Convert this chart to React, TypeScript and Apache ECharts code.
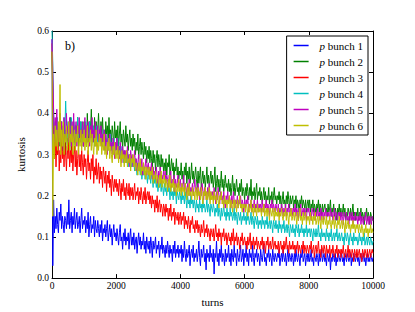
import React, { useEffect, useRef } from "react";
import * as echarts from "echarts";

const TURN_STEP = 25;
const xTicks = [0, 2000, 4000, 6000, 8000, 10000];
const yTicks = [0.0, 0.1, 0.2, 0.3, 0.4, 0.5, 0.6];
const seriesNames = ["p bunch 1", "p bunch 2", "p bunch 3", "p bunch 4", "p bunch 5", "p bunch 6"];
const seriesColors = ["#0000ff", "#008000", "#ff0000", "#00bfbf", "#bf00bf", "#bfbf00"];

const bunch1 = [
  0.58, 0.03, 0.19, 0.11, 0.15, 0.12, 0.17, 0.13, 0.11, 0.16, 0.14, 0.18, 0.12, 0.15, 0.13, 0.11, 0.15, 0.14, 0.12, 0.16,
  0.13, 0.19, 0.12, 0.14, 0.16, 0.11, 0.15, 0.13, 0.17, 0.12, 0.14, 0.16, 0.12, 0.13, 0.15, 0.11, 0.14, 0.17, 0.12, 0.14,
  0.13, 0.15, 0.11, 0.14, 0.12, 0.16, 0.10, 0.13, 0.15, 0.11, 0.13, 0.12, 0.15, 0.10, 0.14, 0.12, 0.11, 0.14, 0.12, 0.10,
  0.13, 0.11, 0.14, 0.09, 0.12, 0.11, 0.13, 0.10, 0.12, 0.14, 0.09, 0.11, 0.13, 0.10, 0.12, 0.08, 0.11, 0.13, 0.10, 0.11,
  0.09, 0.12, 0.10, 0.08, 0.11, 0.13, 0.09, 0.10, 0.07, 0.11, 0.09, 0.12, 0.08, 0.10, 0.09, 0.11, 0.07, 0.10, 0.12, 0.08,
  0.10, 0.08, 0.11, 0.07, 0.09, 0.10, 0.06, 0.09, 0.11, 0.08, 0.10, 0.07, 0.09, 0.08, 0.11, 0.07, 0.09, 0.06, 0.10, 0.08,
  0.07, 0.09, 0.06, 0.10, 0.08, 0.05, 0.09, 0.07, 0.08, 0.10, 0.06, 0.08, 0.07, 0.09, 0.05, 0.08, 0.07, 0.10, 0.06, 0.08,
  0.07, 0.05, 0.08, 0.06, 0.09, 0.07, 0.05, 0.08, 0.06, 0.07, 0.04, 0.08, 0.06, 0.09, 0.05, 0.07, 0.06, 0.08, 0.05, 0.07,
  0.06, 0.08, 0.04, 0.07, 0.05, 0.09, 0.06, 0.04, 0.07, 0.05, 0.06, 0.08, 0.03, 0.06, 0.07, 0.05, 0.08, 0.04, 0.06, 0.05,
  0.07, 0.04, 0.06, 0.09, 0.05, 0.03, 0.07, 0.05, 0.06, 0.08, 0.04, 0.06, 0.02, 0.07, 0.05, 0.06, 0.04, 0.08, 0.05, 0.06,
  0.04, 0.07, 0.01, 0.06, 0.05, 0.09, 0.04, 0.06, 0.03, 0.07, 0.05, 0.08, 0.04, 0.06, 0.05, 0.03, 0.07, 0.04, 0.06, 0.05,
  0.08, 0.04, 0.06, 0.03, 0.07, 0.05, 0.04, 0.08, 0.05, 0.06, 0.03, 0.07, 0.05, 0.04, 0.06, 0.08, 0.04, 0.05, 0.07, 0.03,
  0.06, 0.05, 0.08, 0.04, 0.06, 0.03, 0.07, 0.05, 0.06, 0.04, 0.08, 0.05, 0.03, 0.06, 0.05, 0.07, 0.04, 0.06, 0.05, 0.03,
  0.07, 0.05, 0.04, 0.06, 0.08, 0.04, 0.05, 0.03, 0.06, 0.05, 0.07, 0.04, 0.06, 0.05, 0.03, 0.07, 0.05, 0.04, 0.06, 0.05,
  0.04, 0.06, 0.05, 0.07, 0.03, 0.05, 0.06, 0.04, 0.07, 0.05, 0.04, 0.06, 0.03, 0.05, 0.07, 0.04, 0.06, 0.05, 0.04, 0.06,
  0.05, 0.03, 0.06, 0.04, 0.07, 0.05, 0.04, 0.06, 0.05, 0.03, 0.06, 0.05, 0.07, 0.04, 0.05, 0.06, 0.03, 0.05, 0.06, 0.04,
  0.06, 0.04, 0.05, 0.07, 0.04, 0.05, 0.03, 0.06, 0.05, 0.04, 0.06, 0.05, 0.03, 0.06, 0.04, 0.05, 0.07, 0.04, 0.05, 0.06,
  0.04, 0.05, 0.03, 0.06, 0.05, 0.04, 0.06, 0.02, 0.05, 0.04, 0.06, 0.05, 0.04, 0.06, 0.03, 0.05, 0.04, 0.06, 0.05, 0.04,
  0.05, 0.06, 0.04, 0.05, 0.03, 0.06, 0.05, 0.04, 0.06, 0.05, 0.04, 0.05, 0.06, 0.03, 0.05, 0.04, 0.06, 0.05, 0.04, 0.05,
  0.06, 0.04, 0.05, 0.03, 0.05, 0.06, 0.04, 0.05, 0.06, 0.04, 0.05, 0.03, 0.05, 0.06, 0.04, 0.05, 0.04, 0.06, 0.05, 0.04,
  0.05,
];

const bunch2 = [
  0.55, 0.46, 0.38, 0.31, 0.36, 0.33, 0.39, 0.30, 0.35, 0.37, 0.32, 0.38, 0.34, 0.31, 0.37, 0.33, 0.36, 0.30, 0.38, 0.34,
  0.32, 0.37, 0.34, 0.39, 0.31, 0.36, 0.33, 0.38, 0.35, 0.31, 0.37, 0.34, 0.39, 0.32, 0.36, 0.33, 0.38, 0.34, 0.36, 0.32,
  0.38, 0.34, 0.37, 0.32, 0.40, 0.35, 0.33, 0.38, 0.36, 0.41, 0.34, 0.37, 0.33, 0.39, 0.35, 0.38, 0.34, 0.36, 0.40, 0.35,
  0.33, 0.38, 0.35, 0.39, 0.34, 0.36, 0.32, 0.38, 0.35, 0.37, 0.33, 0.39, 0.34, 0.36, 0.33, 0.37, 0.35, 0.32, 0.38, 0.34,
  0.36, 0.33, 0.37, 0.32, 0.35, 0.38, 0.33, 0.35, 0.31, 0.36, 0.34, 0.32, 0.37, 0.33, 0.35, 0.31, 0.34, 0.36, 0.32, 0.34,
  0.31, 0.35, 0.32, 0.34, 0.30, 0.33, 0.31, 0.35, 0.29, 0.32, 0.34, 0.30, 0.33, 0.31, 0.29, 0.33, 0.30, 0.32, 0.28, 0.31,
  0.29, 0.32, 0.28, 0.31, 0.29, 0.27, 0.31, 0.28, 0.30, 0.26, 0.29, 0.31, 0.27, 0.30, 0.28, 0.26, 0.30, 0.27, 0.29, 0.26,
  0.28, 0.26, 0.29, 0.25, 0.28, 0.27, 0.30, 0.25, 0.27, 0.29, 0.26, 0.28, 0.24, 0.27, 0.26, 0.29, 0.25, 0.27, 0.24, 0.26,
  0.25, 0.28, 0.24, 0.26, 0.23, 0.27, 0.25, 0.28, 0.23, 0.26, 0.24, 0.27, 0.23, 0.25, 0.28, 0.24, 0.26, 0.23, 0.25, 0.27,
  0.24, 0.22, 0.26, 0.23, 0.25, 0.27, 0.22, 0.24, 0.26, 0.23, 0.25, 0.22, 0.24, 0.27, 0.23, 0.25, 0.22, 0.24, 0.26, 0.23,
  0.25, 0.22, 0.24, 0.27, 0.21, 0.23, 0.25, 0.22, 0.24, 0.21, 0.23, 0.26, 0.22, 0.24, 0.21, 0.23, 0.25, 0.22, 0.23, 0.21,
  0.24, 0.21, 0.23, 0.20, 0.22, 0.25, 0.21, 0.23, 0.20, 0.22, 0.24, 0.21, 0.22, 0.20, 0.23, 0.21, 0.24, 0.20, 0.22, 0.21,
  0.19, 0.22, 0.20, 0.23, 0.21, 0.19, 0.22, 0.20, 0.24, 0.19, 0.21, 0.20, 0.22, 0.19, 0.21, 0.23, 0.19, 0.21, 0.20, 0.22,
  0.19, 0.21, 0.18, 0.20, 0.22, 0.19, 0.21, 0.18, 0.20, 0.19, 0.22, 0.18, 0.20, 0.19, 0.21, 0.18, 0.20, 0.22, 0.19, 0.20,
  0.18, 0.20, 0.19, 0.21, 0.18, 0.20, 0.17, 0.19, 0.21, 0.18, 0.19, 0.17, 0.20, 0.18, 0.21, 0.19, 0.17, 0.20, 0.18, 0.19,
  0.20, 0.17, 0.19, 0.18, 0.20, 0.17, 0.19, 0.18, 0.16, 0.19, 0.18, 0.20, 0.17, 0.19, 0.18, 0.17, 0.19, 0.16, 0.18, 0.19,
  0.17, 0.19, 0.16, 0.18, 0.17, 0.19, 0.16, 0.18, 0.17, 0.15, 0.18, 0.17, 0.19, 0.16, 0.18, 0.17, 0.15, 0.18, 0.16, 0.17,
  0.18, 0.16, 0.17, 0.15, 0.18, 0.16, 0.17, 0.19, 0.15, 0.17, 0.16, 0.18, 0.15, 0.17, 0.16, 0.14, 0.17, 0.16, 0.18, 0.15,
  0.17, 0.15, 0.16, 0.18, 0.15, 0.17, 0.14, 0.16, 0.15, 0.17, 0.16, 0.14, 0.17, 0.15, 0.16, 0.18, 0.15, 0.16, 0.14, 0.16,
  0.15, 0.17, 0.14, 0.16, 0.15, 0.17, 0.14, 0.16, 0.15, 0.13, 0.16, 0.15, 0.17, 0.14, 0.16, 0.15, 0.13, 0.16, 0.15, 0.14,
  0.15,
];

const bunch3 = [
  0.57, 0.43, 0.36, 0.29, 0.34, 0.27, 0.33, 0.30, 0.35, 0.26, 0.31, 0.28, 0.34, 0.29, 0.32, 0.27, 0.33, 0.30, 0.26, 0.32,
  0.29, 0.33, 0.27, 0.31, 0.28, 0.34, 0.26, 0.30, 0.32, 0.27, 0.31, 0.25, 0.29, 0.32, 0.27, 0.30, 0.26, 0.31, 0.28, 0.25,
  0.30, 0.27, 0.29, 0.24, 0.28, 0.31, 0.26, 0.28, 0.24, 0.29, 0.26, 0.30, 0.23, 0.27, 0.25, 0.29, 0.24, 0.26, 0.28, 0.23,
  0.27, 0.24, 0.26, 0.22, 0.27, 0.25, 0.23, 0.26, 0.21, 0.25, 0.23, 0.26, 0.22, 0.24, 0.20, 0.25, 0.23, 0.21, 0.24, 0.22,
  0.24, 0.21, 0.23, 0.20, 0.24, 0.22, 0.19, 0.23, 0.21, 0.24, 0.20, 0.22, 0.19, 0.23, 0.21, 0.20, 0.23, 0.19, 0.22, 0.20,
  0.22, 0.19, 0.21, 0.23, 0.19, 0.21, 0.20, 0.22, 0.18, 0.21, 0.19, 0.22, 0.20, 0.18, 0.21, 0.19, 0.22, 0.18, 0.20, 0.21,
  0.19, 0.21, 0.18, 0.20, 0.17, 0.20, 0.18, 0.19, 0.16, 0.19, 0.17, 0.20, 0.16, 0.18, 0.19, 0.16, 0.18, 0.17, 0.15, 0.18,
  0.17, 0.15, 0.18, 0.16, 0.17, 0.14, 0.17, 0.15, 0.18, 0.14, 0.16, 0.15, 0.17, 0.13, 0.16, 0.15, 0.14, 0.16, 0.13, 0.15,
  0.16, 0.13, 0.15, 0.14, 0.16, 0.12, 0.15, 0.13, 0.14, 0.12, 0.15, 0.13, 0.11, 0.14, 0.13, 0.15, 0.12, 0.13, 0.11, 0.14,
  0.12, 0.14, 0.11, 0.13, 0.12, 0.10, 0.13, 0.11, 0.12, 0.14, 0.10, 0.12, 0.11, 0.13, 0.10, 0.12, 0.11, 0.09, 0.12, 0.11,
  0.10, 0.12, 0.09, 0.11, 0.13, 0.10, 0.11, 0.09, 0.12, 0.10, 0.11, 0.08, 0.11, 0.10, 0.12, 0.09, 0.10, 0.11, 0.08, 0.10,
  0.11, 0.09, 0.10, 0.08, 0.11, 0.09, 0.12, 0.08, 0.10, 0.09, 0.11, 0.08, 0.10, 0.09, 0.07, 0.10, 0.09, 0.11, 0.08, 0.09,
  0.10, 0.08, 0.09, 0.07, 0.10, 0.08, 0.09, 0.11, 0.07, 0.09, 0.08, 0.10, 0.07, 0.09, 0.08, 0.10, 0.07, 0.09, 0.08, 0.07,
  0.09, 0.08, 0.10, 0.07, 0.09, 0.08, 0.06, 0.09, 0.08, 0.10, 0.07, 0.08, 0.09, 0.07, 0.08, 0.10, 0.07, 0.08, 0.09, 0.07,
  0.08, 0.07, 0.09, 0.06, 0.08, 0.09, 0.07, 0.08, 0.06, 0.09, 0.07, 0.08, 0.10, 0.07, 0.08, 0.06, 0.09, 0.07, 0.08, 0.07,
  0.09, 0.07, 0.08, 0.06, 0.08, 0.07, 0.09, 0.06, 0.08, 0.07, 0.06, 0.08, 0.07, 0.09, 0.06, 0.08, 0.07, 0.06, 0.08, 0.07,
  0.06, 0.08, 0.07, 0.09, 0.06, 0.07, 0.08, 0.05, 0.07, 0.08, 0.06, 0.07, 0.09, 0.06, 0.07, 0.05, 0.08, 0.07, 0.06, 0.08,
  0.07, 0.05, 0.08, 0.06, 0.07, 0.06, 0.08, 0.05, 0.07, 0.06, 0.08, 0.06, 0.05, 0.07, 0.06, 0.08, 0.05, 0.07, 0.06, 0.07,
  0.05, 0.07, 0.06, 0.08, 0.05, 0.06, 0.07, 0.05, 0.06, 0.08, 0.05, 0.07, 0.06, 0.05, 0.07, 0.06, 0.04, 0.07, 0.06, 0.05,
  0.07, 0.05, 0.06, 0.07, 0.05, 0.06, 0.04, 0.07, 0.06, 0.05, 0.07, 0.06, 0.05, 0.07, 0.05, 0.06, 0.07, 0.05, 0.06, 0.07,
  0.06,
];

const bunch4 = [
  0.60, 0.52, 0.40, 0.34, 0.38, 0.35, 0.39, 0.33, 0.37, 0.35, 0.40, 0.34, 0.38, 0.33, 0.36, 0.39, 0.35, 0.43, 0.37, 0.34,
  0.38, 0.35, 0.37, 0.33, 0.39, 0.36, 0.34, 0.38, 0.35, 0.37, 0.33, 0.36, 0.39, 0.34, 0.37, 0.35, 0.38, 0.33, 0.36, 0.35,
  0.37, 0.34, 0.38, 0.35, 0.33, 0.37, 0.35, 0.38, 0.34, 0.36, 0.33, 0.37, 0.35, 0.32, 0.36, 0.34, 0.37, 0.33, 0.35, 0.34,
  0.36, 0.33, 0.35, 0.32, 0.36, 0.34, 0.31, 0.35, 0.33, 0.34, 0.31, 0.34, 0.32, 0.35, 0.31, 0.33, 0.30, 0.34, 0.32, 0.31,
  0.33, 0.31, 0.34, 0.30, 0.32, 0.29, 0.32, 0.30, 0.31, 0.28, 0.31, 0.29, 0.30, 0.28, 0.31, 0.27, 0.30, 0.28, 0.29, 0.27,
  0.29, 0.27, 0.28, 0.26, 0.29, 0.27, 0.25, 0.28, 0.26, 0.27, 0.25, 0.27, 0.24, 0.26, 0.25, 0.27, 0.24, 0.26, 0.25, 0.23,
  0.26, 0.24, 0.25, 0.23, 0.26, 0.24, 0.22, 0.25, 0.23, 0.24, 0.22, 0.24, 0.21, 0.23, 0.22, 0.24, 0.21, 0.23, 0.22, 0.20,
  0.23, 0.21, 0.22, 0.20, 0.23, 0.21, 0.22, 0.19, 0.22, 0.20, 0.21, 0.19, 0.22, 0.20, 0.21, 0.18, 0.21, 0.20, 0.19, 0.21,
  0.20, 0.18, 0.21, 0.19, 0.20, 0.18, 0.21, 0.19, 0.17, 0.20, 0.18, 0.19, 0.17, 0.20, 0.18, 0.19, 0.17, 0.19, 0.18, 0.16,
  0.19, 0.17, 0.18, 0.16, 0.19, 0.17, 0.18, 0.16, 0.19, 0.17, 0.18, 0.16, 0.17, 0.19, 0.16, 0.18, 0.17, 0.15, 0.18, 0.17,
  0.16, 0.18, 0.17, 0.15, 0.17, 0.16, 0.18, 0.15, 0.17, 0.16, 0.14, 0.17, 0.15, 0.16, 0.18, 0.15, 0.16, 0.14, 0.17, 0.15,
  0.16, 0.14, 0.17, 0.15, 0.16, 0.14, 0.15, 0.17, 0.14, 0.16, 0.15, 0.13, 0.16, 0.15, 0.14, 0.16, 0.13, 0.15, 0.14, 0.16,
  0.14, 0.15, 0.13, 0.16, 0.14, 0.15, 0.13, 0.14, 0.16, 0.13, 0.15, 0.14, 0.12, 0.15, 0.14, 0.13, 0.15, 0.12, 0.14, 0.13,
  0.14, 0.12, 0.15, 0.13, 0.14, 0.12, 0.14, 0.13, 0.15, 0.12, 0.13, 0.14, 0.12, 0.14, 0.13, 0.11, 0.14, 0.13, 0.12, 0.14,
  0.12, 0.13, 0.11, 0.14, 0.12, 0.13, 0.11, 0.13, 0.12, 0.14, 0.11, 0.12, 0.13, 0.11, 0.13, 0.12, 0.10, 0.13, 0.12, 0.11,
  0.13, 0.11, 0.12, 0.10, 0.13, 0.12, 0.11, 0.13, 0.10, 0.12, 0.11, 0.13, 0.11, 0.12, 0.10, 0.12, 0.11, 0.13, 0.10, 0.12,
  0.11, 0.12, 0.10, 0.12, 0.11, 0.09, 0.12, 0.11, 0.10, 0.12, 0.10, 0.11, 0.13, 0.10, 0.11, 0.09, 0.12, 0.10, 0.11, 0.10,
  0.11, 0.09, 0.12, 0.10, 0.11, 0.09, 0.11, 0.10, 0.12, 0.09, 0.10, 0.11, 0.09, 0.11, 0.10, 0.12, 0.09, 0.10, 0.11, 0.09,
  0.10, 0.11, 0.09, 0.10, 0.08, 0.11, 0.10, 0.09, 0.11, 0.10, 0.08, 0.10, 0.11, 0.09, 0.10, 0.08, 0.11, 0.09, 0.10, 0.09,
  0.10, 0.08, 0.09, 0.11, 0.09, 0.10, 0.08, 0.10, 0.09, 0.11, 0.08, 0.09, 0.10, 0.08, 0.10, 0.09, 0.08, 0.10, 0.09, 0.08,
  0.09,
];

const bunch5 = [
  0.58, 0.50, 0.41, 0.33, 0.39, 0.35, 0.41, 0.32, 0.37, 0.34, 0.40, 0.33, 0.38, 0.35, 0.31, 0.39, 0.36, 0.33, 0.40, 0.35,
  0.37, 0.33, 0.39, 0.35, 0.32, 0.38, 0.34, 0.40, 0.33, 0.36, 0.38, 0.32, 0.37, 0.35, 0.39, 0.33, 0.36, 0.34, 0.38, 0.32,
  0.36, 0.39, 0.34, 0.37, 0.33, 0.38, 0.35, 0.32, 0.37, 0.34, 0.39, 0.33, 0.36, 0.34, 0.38, 0.32, 0.35, 0.37, 0.33, 0.36,
  0.34, 0.37, 0.32, 0.35, 0.33, 0.36, 0.31, 0.35, 0.33, 0.30, 0.34, 0.32, 0.35, 0.31, 0.33, 0.30, 0.34, 0.32, 0.29, 0.33,
  0.31, 0.34, 0.30, 0.32, 0.29, 0.33, 0.31, 0.28, 0.32, 0.30, 0.31, 0.28, 0.31, 0.29, 0.32, 0.28, 0.30, 0.27, 0.31, 0.29,
  0.30, 0.27, 0.29, 0.31, 0.27, 0.29, 0.26, 0.28, 0.30, 0.26, 0.28, 0.27, 0.29, 0.25, 0.28, 0.26, 0.27, 0.29, 0.25, 0.27,
  0.28, 0.25, 0.27, 0.26, 0.28, 0.24, 0.27, 0.25, 0.26, 0.24, 0.27, 0.25, 0.23, 0.26, 0.24, 0.27, 0.23, 0.25, 0.24, 0.26,
  0.24, 0.26, 0.23, 0.25, 0.24, 0.22, 0.25, 0.23, 0.26, 0.22, 0.24, 0.23, 0.25, 0.21, 0.24, 0.22, 0.23, 0.25, 0.22, 0.23,
  0.24, 0.21, 0.23, 0.22, 0.25, 0.21, 0.23, 0.22, 0.20, 0.23, 0.21, 0.24, 0.20, 0.22, 0.21, 0.23, 0.20, 0.22, 0.24, 0.21,
  0.22, 0.20, 0.23, 0.21, 0.19, 0.22, 0.20, 0.23, 0.21, 0.19, 0.22, 0.20, 0.21, 0.19, 0.22, 0.20, 0.23, 0.19, 0.21, 0.20,
  0.21, 0.19, 0.22, 0.20, 0.18, 0.21, 0.19, 0.22, 0.20, 0.18, 0.21, 0.19, 0.20, 0.18, 0.21, 0.19, 0.17, 0.20, 0.19, 0.21,
  0.18, 0.20, 0.19, 0.17, 0.20, 0.18, 0.21, 0.19, 0.17, 0.19, 0.18, 0.20, 0.17, 0.19, 0.18, 0.20, 0.17, 0.19, 0.18, 0.16,
  0.19, 0.17, 0.19, 0.18, 0.20, 0.16, 0.18, 0.17, 0.19, 0.16, 0.18, 0.17, 0.19, 0.16, 0.18, 0.17, 0.19, 0.16, 0.18, 0.17,
  0.18, 0.16, 0.19, 0.17, 0.16, 0.18, 0.17, 0.19, 0.16, 0.18, 0.17, 0.15, 0.18, 0.17, 0.19, 0.16, 0.18, 0.17, 0.16, 0.18,
  0.17, 0.16, 0.18, 0.15, 0.17, 0.16, 0.18, 0.17, 0.15, 0.17, 0.16, 0.18, 0.15, 0.17, 0.16, 0.18, 0.15, 0.17, 0.16, 0.17,
  0.15, 0.17, 0.16, 0.18, 0.15, 0.17, 0.16, 0.14, 0.17, 0.16, 0.18, 0.15, 0.16, 0.17, 0.15, 0.17, 0.16, 0.14, 0.17, 0.16,
  0.17, 0.15, 0.16, 0.14, 0.17, 0.16, 0.15, 0.17, 0.14, 0.16, 0.15, 0.17, 0.15, 0.16, 0.14, 0.17, 0.15, 0.16, 0.14, 0.16,
  0.15, 0.17, 0.14, 0.16, 0.15, 0.16, 0.14, 0.17, 0.15, 0.16, 0.14, 0.15, 0.17, 0.14, 0.16, 0.15, 0.14, 0.16, 0.15, 0.16,
  0.14, 0.16, 0.15, 0.13, 0.16, 0.15, 0.14, 0.16, 0.14, 0.15, 0.13, 0.16, 0.15, 0.14, 0.16, 0.13, 0.15, 0.14, 0.16, 0.14,
  0.15, 0.13, 0.15, 0.14, 0.16, 0.13, 0.15, 0.14, 0.13, 0.15, 0.14, 0.16, 0.13, 0.14, 0.15, 0.13, 0.15, 0.14, 0.13, 0.15,
  0.14,
];

const bunch6 = [
  0.55, 0.15, 0.35, 0.29, 0.37, 0.32, 0.36, 0.31, 0.38, 0.33, 0.47, 0.30, 0.36, 0.32, 0.38, 0.30, 0.35, 0.33, 0.37, 0.31,
  0.34, 0.38, 0.31, 0.35, 0.33, 0.37, 0.30, 0.34, 0.36, 0.31, 0.35, 0.33, 0.37, 0.30, 0.34, 0.32, 0.36, 0.31, 0.35, 0.33,
  0.36, 0.31, 0.34, 0.32, 0.37, 0.30, 0.34, 0.33, 0.36, 0.31, 0.35, 0.32, 0.30, 0.34, 0.32, 0.36, 0.30, 0.33, 0.31, 0.35,
  0.32, 0.34, 0.30, 0.33, 0.31, 0.35, 0.30, 0.32, 0.29, 0.33, 0.31, 0.34, 0.29, 0.32, 0.30, 0.28, 0.32, 0.30, 0.33, 0.29,
  0.31, 0.29, 0.32, 0.28, 0.31, 0.30, 0.27, 0.31, 0.29, 0.30, 0.27, 0.30, 0.28, 0.31, 0.27, 0.29, 0.28, 0.30, 0.26, 0.29,
  0.28, 0.30, 0.27, 0.29, 0.26, 0.28, 0.27, 0.25, 0.28, 0.26, 0.29, 0.25, 0.27, 0.26, 0.28, 0.25, 0.27, 0.24, 0.27, 0.26,
  0.25, 0.27, 0.24, 0.26, 0.25, 0.27, 0.23, 0.25, 0.24, 0.26, 0.23, 0.25, 0.24, 0.22, 0.25, 0.23, 0.26, 0.22, 0.24, 0.23,
  0.25, 0.22, 0.24, 0.23, 0.21, 0.24, 0.22, 0.25, 0.21, 0.23, 0.22, 0.24, 0.21, 0.23, 0.22, 0.20, 0.23, 0.21, 0.24, 0.21,
  0.22, 0.20, 0.23, 0.21, 0.22, 0.20, 0.23, 0.21, 0.19, 0.22, 0.20, 0.23, 0.20, 0.21, 0.19, 0.22, 0.20, 0.21, 0.19, 0.22,
  0.21, 0.19, 0.22, 0.20, 0.21, 0.19, 0.22, 0.20, 0.18, 0.21, 0.20, 0.22, 0.19, 0.21, 0.19, 0.20, 0.22, 0.18, 0.21, 0.19,
  0.20, 0.18, 0.21, 0.19, 0.20, 0.18, 0.21, 0.19, 0.17, 0.20, 0.19, 0.21, 0.18, 0.19, 0.17, 0.20, 0.18, 0.19, 0.17, 0.19,
  0.18, 0.20, 0.17, 0.19, 0.18, 0.16, 0.19, 0.17, 0.19, 0.18, 0.16, 0.19, 0.17, 0.18, 0.20, 0.17, 0.18, 0.16, 0.18, 0.17,
  0.18, 0.16, 0.18, 0.17, 0.15, 0.18, 0.16, 0.17, 0.19, 0.16, 0.17, 0.15, 0.18, 0.16, 0.17, 0.15, 0.18, 0.16, 0.17, 0.16,
  0.17, 0.15, 0.17, 0.16, 0.18, 0.15, 0.16, 0.17, 0.15, 0.17, 0.16, 0.14, 0.17, 0.16, 0.15, 0.17, 0.16, 0.14, 0.17, 0.15,
  0.16, 0.15, 0.17, 0.14, 0.16, 0.15, 0.17, 0.15, 0.14, 0.16, 0.15, 0.17, 0.14, 0.16, 0.15, 0.13, 0.16, 0.15, 0.17, 0.14,
  0.15, 0.16, 0.14, 0.16, 0.15, 0.13, 0.16, 0.14, 0.15, 0.17, 0.14, 0.15, 0.13, 0.16, 0.14, 0.15, 0.16, 0.13, 0.15, 0.14,
  0.15, 0.13, 0.16, 0.14, 0.15, 0.13, 0.15, 0.14, 0.16, 0.13, 0.14, 0.15, 0.13, 0.15, 0.14, 0.12, 0.15, 0.14, 0.13, 0.15,
  0.14, 0.13, 0.15, 0.12, 0.14, 0.13, 0.15, 0.13, 0.12, 0.14, 0.13, 0.15, 0.12, 0.14, 0.13, 0.12, 0.14, 0.13, 0.15, 0.12,
  0.13, 0.14, 0.12, 0.14, 0.13, 0.11, 0.14, 0.12, 0.13, 0.14, 0.12, 0.13, 0.11, 0.13, 0.12, 0.14, 0.12, 0.13, 0.11, 0.13,
  0.12, 0.13, 0.11, 0.13, 0.12, 0.11, 0.13, 0.12, 0.10, 0.12, 0.11, 0.13, 0.11, 0.12, 0.10, 0.12, 0.11, 0.13, 0.11, 0.12,
  0.11,
];

const allSeries = [bunch1, bunch2, bunch3, bunch4, bunch5, bunch6];

const FONT = "Liberation Serif";
const LEGEND_LINE_ICON = "path://M0,0L10,0L10,1L0,1Z";

export default function App() {
  const ref = useRef<HTMLDivElement>(null);
  useEffect(() => {
    if (!ref.current) return;
    const chart = echarts.init(ref.current, undefined, { renderer: "svg" });
    const axisCommon = {
      type: "value" as const,
      axisLine: { show: true, onZero: false, lineStyle: { color: "#000", width: 1 } },
      axisTick: { show: true, inside: true, length: 4, lineStyle: { color: "#000", width: 1 } },
      splitLine: { show: false },
    };
    const xMin = xTicks[0];
    const xMax = xTicks[xTicks.length - 1];
    const xInt = xTicks[1] - xTicks[0];
    const yMin = yTicks[0];
    const yMax = yTicks[yTicks.length - 1];
    const yInt = 0.1;
    chart.setOption({
      animation: false,
      backgroundColor: "#fff",
      grid: { left: 52, right: 42, top: 31, bottom: 32, containLabel: false },
      xAxis: [
        {
          ...axisCommon,
          position: "bottom",
          min: xMin,
          max: xMax,
          interval: xInt,
          name: "turns",
          nameLocation: "middle",
          nameGap: 17,
          nameTextStyle: { fontFamily: FONT, fontSize: 11, color: "#000" },
          axisLabel: {
            fontFamily: FONT,
            fontSize: 9.5,
            color: "#000",
            margin: 3,
            formatter: (v: number) => String(v),
          },
        },
        {
          ...axisCommon,
          position: "top",
          min: xMin,
          max: xMax,
          interval: xInt,
          axisLabel: { show: false },
        },
      ],
      yAxis: [
        {
          ...axisCommon,
          position: "left",
          min: yMin,
          max: yMax,
          interval: yInt,
          name: "kurtosis",
          nameLocation: "middle",
          nameGap: 24,
          nameTextStyle: { fontFamily: FONT, fontSize: 11, color: "#000" },
          axisLabel: {
            fontFamily: FONT,
            fontSize: 9.5,
            color: "#000",
            margin: 3,
            formatter: (v: number) => v.toFixed(1),
          },
        },
        {
          ...axisCommon,
          position: "right",
          min: yMin,
          max: yMax,
          interval: yInt,
          axisLabel: { show: false },
        },
      ],
      legend: {
        show: true,
        orient: "vertical",
        right: 47,
        top: 36,
        padding: [4, 5, 4, 7],
        itemGap: 5,
        itemWidth: 15,
        itemHeight: 10,
        borderColor: "#000",
        borderWidth: 1,
        borderRadius: 0,
        backgroundColor: "#fff",
        data: seriesNames.map((n) => ({ name: n, icon: LEGEND_LINE_ICON })),
        itemStyle: { borderWidth: 0 },
        formatter: (name: string) => "{i|p} {n|" + name.slice(2) + "}",
        textStyle: {
          fontFamily: FONT,
          fontSize: 11,
          color: "#000",
          padding: [0, 0, 0, 6],
          rich: {
            i: { fontFamily: FONT, fontSize: 11, fontStyle: "italic", color: "#000" },
            n: { fontFamily: FONT, fontSize: 11, color: "#000" },
          },
        },
      },
      graphic: [
        {
          type: "text",
          left: 65,
          top: 40,
          style: { text: "b)", fontFamily: FONT, fontSize: 12, fill: "#000" },
        },
      ],
      series: allSeries.map((vals, k) => ({
        type: "line",
        name: seriesNames[k],
        xAxisIndex: 0,
        yAxisIndex: 0,
        symbol: "none",
        showSymbol: false,
        color: seriesColors[k],
        lineStyle: { width: 1, color: seriesColors[k] },
        data: vals.map((v, i) => [i * TURN_STEP, v]),
      })),
    });
    return () => chart.dispose();
  }, []);
  return (
    <div
      ref={ref}
      style={{ position: "fixed", left: 0, top: 0, width: 415, height: 312, background: "#fff" }}
    />
  );
}
